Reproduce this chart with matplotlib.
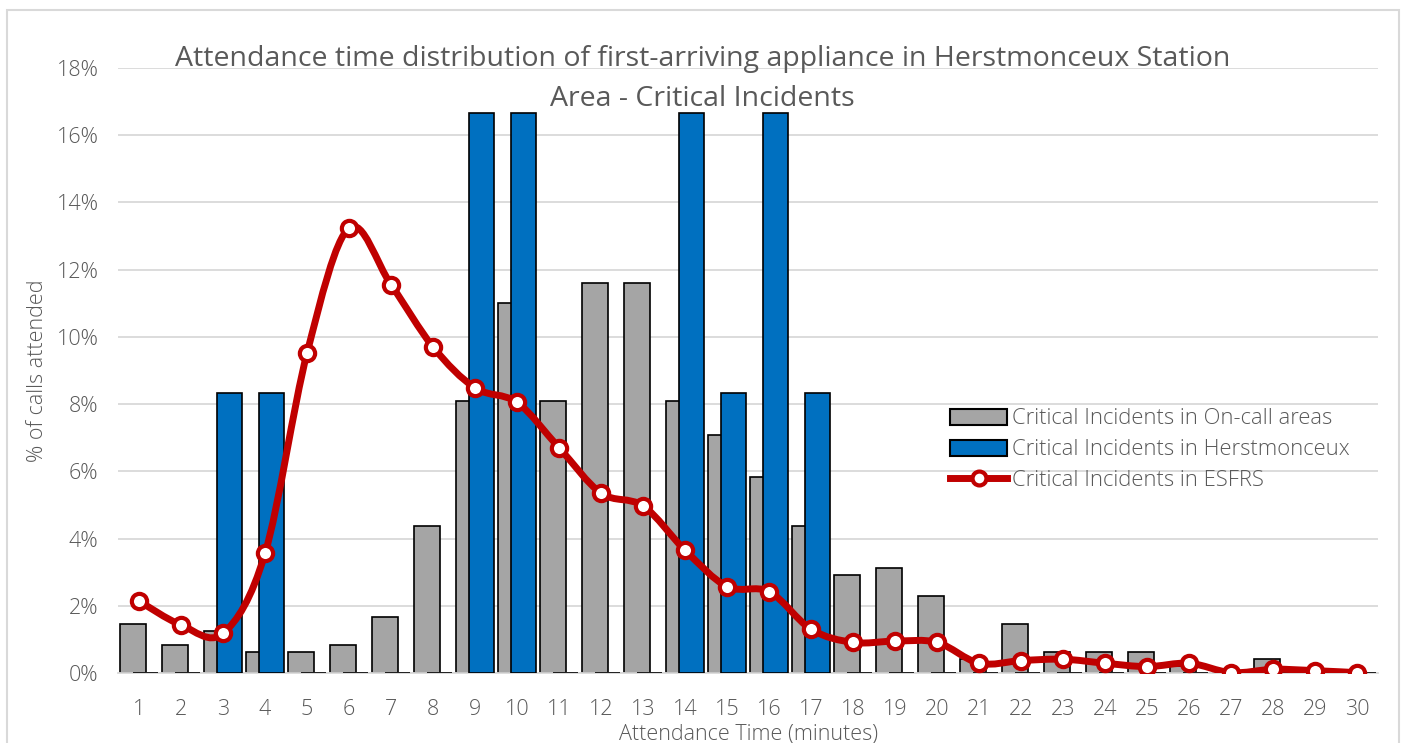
import matplotlib
matplotlib.use("Agg")
import matplotlib.pyplot as plt
import numpy as np
from matplotlib.path import Path
from matplotlib.patches import PathPatch, Patch, Rectangle
from matplotlib.lines import Line2D

minutes = list(range(1, 31))
on_call = [1.46, 0.83, 1.25, 0.63, 0.63, 0.83, 1.67, 4.37, 8.1, 11.0,
           8.1, 11.6, 11.6, 8.1, 7.08, 5.83, 4.37, 2.92, 3.13, 2.29,
           0.42, 1.46, 0.63, 0.63, 0.63, 0.21, 0.0, 0.42, 0.0, 0.0]
herstmonceux = [0, 0, 8.33, 8.33, 0, 0, 0, 0, 16.67, 16.67,
                0, 0, 0, 16.67, 8.33, 16.67, 8.33, 0, 0, 0,
                0, 0, 0, 0, 0, 0, 0, 0, 0, 0]
esfrs = [2.14, 1.43, 1.18, 3.56, 9.52, 13.24, 11.55, 9.7, 8.48, 8.05,
         6.7, 5.35, 4.97, 3.65, 2.57, 2.42, 1.3, 0.91, 0.95, 0.91,
         0.29, 0.37, 0.41, 0.29, 0.19, 0.29, 0.01, 0.11, 0.07, 0.01]
yticks = [0, 2, 4, 6, 8, 10, 12, 14, 16, 18]

TXT = "#595959"
plt.rcParams['font.family'] = ['Open Sans', 'DejaVu Sans']
FS = 15.5

fig = plt.figure(figsize=(14.05, 7.43), dpi=100)
ax = fig.add_axes([0.084, 0.0942, 0.897, 0.8143])

# light chart-area border
fig.add_artist(Rectangle((0.005, -0.05), 0.9907, 1.0365, transform=fig.transFigure,
                         facecolor="none", edgecolor="#D9D9D9", linewidth=1.5))

x = np.array(minutes, dtype=float)
w = 0.61
ax.bar(x - 0.15, on_call, width=w, color="#A5A5A5", edgecolor="black", linewidth=1.2, zorder=2)
ax.bar(x + 0.15, herstmonceux, width=w, color="#0070C0", edgecolor="black", linewidth=1.2, zorder=3)

# smoothed line like Excel (cubic bezier through the points)
y = np.array(esfrs)
verts = [(x[0], y[0])]
codes = [Path.MOVETO]
n = len(x)
for i in range(n - 1):
    p0 = np.array([x[max(i - 1, 0)], y[max(i - 1, 0)]])
    p1 = np.array([x[i], y[i]])
    p2 = np.array([x[i + 1], y[i + 1]])
    p3 = np.array([x[min(i + 2, n - 1)], y[min(i + 2, n - 1)]])
    c1 = p1 + (p2 - p0) / 6
    c2 = p2 - (p3 - p1) / 6
    verts += [tuple(c1), tuple(c2), tuple(p2)]
    codes += [Path.CURVE4] * 3
ax.add_patch(PathPatch(Path(verts, codes), facecolor="none", edgecolor="#C00000",
                       linewidth=5, capstyle="round", joinstyle="round", zorder=4))
ax.plot(x, y, linestyle="none", marker="o", markersize=11, markerfacecolor="white",
        markeredgecolor="#C00000", markeredgewidth=3, zorder=5)

ax.set_xlim(0.5, 30.5)
ax.set_ylim(0, 18)
ax.set_xticks(minutes)
ax.set_yticks(yticks)
ax.set_yticklabels([f"{v}%" for v in yticks])
ax.grid(axis="y", color="#D9D9D9", linewidth=1.3, zorder=0)
ax.set_axisbelow(True)
for s in ["top", "right", "left"]:
    ax.spines[s].set_visible(False)
ax.spines["bottom"].set_color("#D9D9D9")
ax.spines["bottom"].set_linewidth(1.3)
ax.tick_params(axis="both", length=0, labelsize=FS, colors=TXT)
ax.tick_params(axis="x", pad=19)
ax.tick_params(axis="y", pad=14)
for lab in ax.get_xticklabels() + ax.get_yticklabels():
    lab.set_fontweight("light")
ax.set_xlabel("Attendance Time (minutes)", fontsize=FS, color=TXT, labelpad=2, fontweight="light")
ax.set_ylabel("% of calls attended", fontsize=FS, color=TXT, labelpad=6, fontweight="light")

fig.text(0.5, 0.8935,
         "Attendance time distribution of first-arriving appliance in Herstmonceux Station\nArea - Critical Incidents",
         ha="center", va="center", fontsize=20.5, color="#595959", linespacing=1.55)

handles = [Patch(facecolor="#A5A5A5", edgecolor="black", linewidth=1.5),
           Patch(facecolor="#0070C0", edgecolor="black", linewidth=1.5),
           Line2D([], [], color="#C00000", linewidth=5, marker="o", markersize=10,
                  markerfacecolor="white", markeredgecolor="#C00000", markeredgewidth=3)]
labels = ["Critical Incidents in On-call areas", "Critical Incidents in Herstmonceux",
          "Critical Incidents in ESFRS"]
leg = ax.legend(handles, labels, loc="upper left", bbox_to_anchor=(0.6535, 0.452), frameon=False,
                labelcolor=TXT, handlelength=2.6, handleheight=0.75,
                handletextpad=0.2, labelspacing=0.45, borderaxespad=0,
                prop={"weight": "light", "size": 15.8})

fig.savefig("out.png", dpi=100)
